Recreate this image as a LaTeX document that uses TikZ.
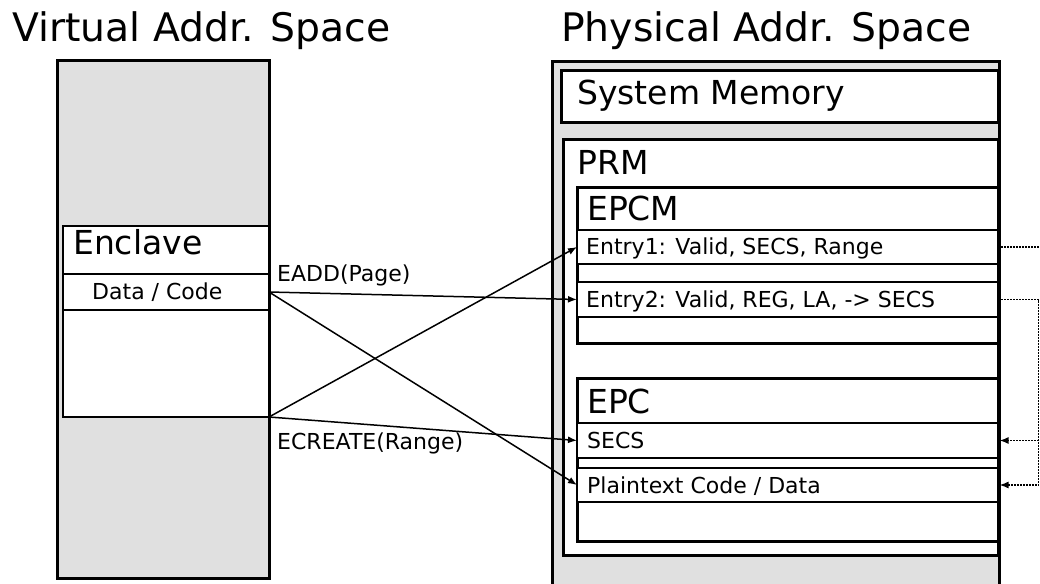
\documentclass[tikz,border=0pt]{standalone}
\usepackage{fontspec}
\setmainfont{DejaVu Sans}
\usetikzlibrary{arrows.meta}
\definecolor{memgray}{RGB}{224,224,224}

\tikzset{
  % memory regions (one unit = 1pt, y grows downwards)
  space/.style={draw=black, line width=3pt, fill=memgray, rectangle,
    inner sep=0pt, outer sep=0pt, anchor=north west},
  region/.style={draw=black, line width=3pt, fill=white, rectangle,
    inner sep=0pt, outer sep=0pt, anchor=north west},
  slot/.style={draw=black, line width=2pt, fill=white, rectangle,
    inner sep=0pt, outer sep=0pt, anchor=north west},
  title/.style={anchor=base west, inner sep=0pt, font=\fontsize{39.3}{45}\selectfont},
  head/.style={anchor=base west, inner sep=0pt, font=\fontsize{33}{38}\selectfont},
  entry/.style={anchor=base west, inner sep=0pt, font=\fontsize{22}{26}\selectfont},
  flow/.style={line width=1.5pt, -{Latex[length=9pt,width=7pt]}},
  link/.style={line width=1.5pt, dash pattern=on 1.6pt off 1.4pt},
  linkto/.style={link, -{Latex[length=9pt,width=7pt]}, shorten >=1.5pt}
}

\begin{document}
\begin{tikzpicture}[x=1pt, y=-1pt]
\useasboundingbox (0,0) rectangle (1040,583);

% titles
\node[title] (vtitle) at (12,42) {Virtual Addr. Space};
\node[title] (ptitle) at (561,42) {Physical Addr. Space};

% virtual address space
\node[space, minimum width=212pt, minimum height=517pt] (vspace) at (57,61) {};
\node[region, line width=2.5pt, minimum width=206pt, minimum height=191pt] (enclave) at (63,226) {};
\node[slot, line width=1.5pt, minimum width=206pt, minimum height=36pt] (datarow) at (63,274) {};
\node[head] (enclavelbl) at (73,254) {Enclave};
\node[entry] (datalbl) at (92,299) {Data / Code};

% physical address space
\node[space, minimum width=447pt, minimum height=530pt] (pspace) at (552,62) {};
\node[region, minimum width=437pt, minimum height=51pt] (sysmem) at (561,71) {};
\node[head] (sysmemlbl) at (577,105) {System Memory};

\node[region, minimum width=435pt, minimum height=416pt] (prm) at (563,139) {};
\node[head] (prmlbl) at (577,174) {PRM};

\node[region, minimum width=421pt, minimum height=156pt] (epcm) at (577,187) {};
\node[head] (epcmlbl) at (587,220) {EPCM};
\node[slot, minimum width=421pt, minimum height=34pt] (entry1) at (577,230) {};
\node[slot, minimum width=421pt, minimum height=35pt] (entry2) at (577,282) {};
\node[entry] (entry1lbl) at (586,254) {Entry1: Valid, SECS, Range};
\node[entry] (entry2lbl) at (586,307) {Entry2: Valid, REG, LA, -> SECS};

\node[region, minimum width=421pt, minimum height=163pt] (epc) at (577,378) {};
\node[head] (epclbl) at (587,413) {EPC};
\node[slot, minimum width=421pt, minimum height=35pt] (secsrow) at (577,423) {};
\node[slot, minimum width=421pt, minimum height=34pt] (plainrow) at (577,468) {};
\node[entry] (secslbl) at (587,448) {SECS};
\node[entry] (plainlbl) at (587,493) {Plaintext Code / Data};

% instructions populating the enclave
\draw[flow] (datarow.east) -- (entry2.west);
\draw[flow] (datarow.east) -- (plainrow.west);
\draw[flow] (enclave.south east) -- (entry1.west);
\draw[flow] (enclave.south east) -- (secsrow.west);
\node[entry] (eaddlbl) at (277,281) {EADD(Page)};
\node[entry] (ecreatelbl) at (277,449) {ECREATE(Range)};

% EPCM entries referring to EPC pages
\path (entry1.east) ++(44,0) coordinate (exit1);
\path (entry2.east) ++(40.5,0) coordinate (bus);
\draw[link] (entry1.east) -- (exit1);
\draw[linkto] (entry2.east) -- (bus) |- (plainrow.east);
\draw[linkto] (bus |- secsrow.east) -- (secsrow.east);
\end{tikzpicture}
\end{document}
